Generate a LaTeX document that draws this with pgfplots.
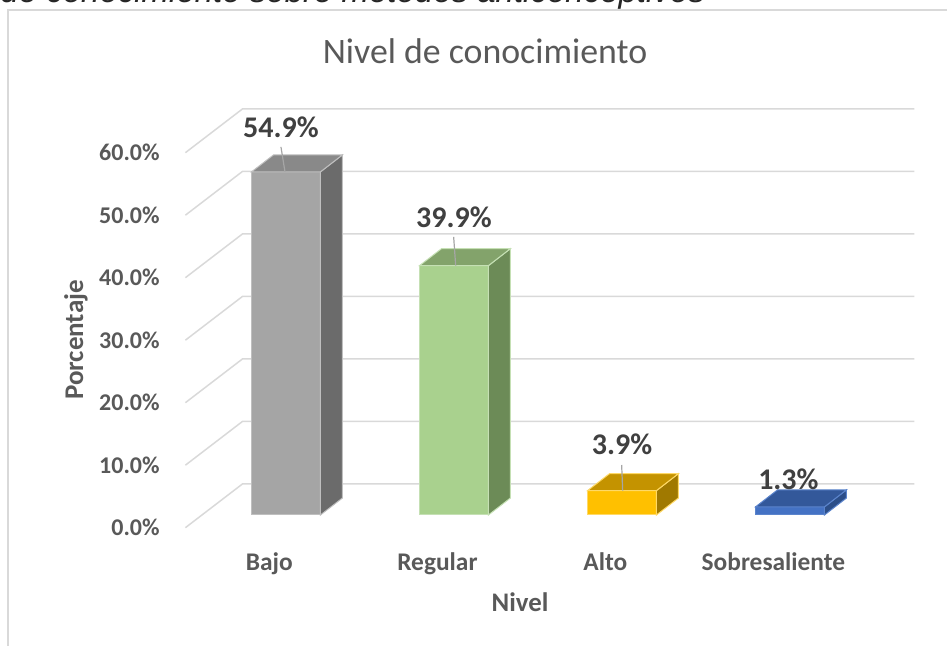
\documentclass[border=0pt]{standalone}
\usepackage{fontspec}
\setmainfont{Carlito}
\newfontfamily\capfont{Liberation Sans}
\usepackage{pgfplots}
\pgfplotsset{compat=1.18}
\definecolor{gridc}{HTML}{D9D9D9}
\definecolor{txt}{HTML}{595959}
\definecolor{lbl}{HTML}{404040}
\definecolor{bajoF}{HTML}{A5A5A5}
\definecolor{bajoS}{HTML}{6B6B6B}
\definecolor{bajoT}{HTML}{898989}
\definecolor{bajoE}{HTML}{BFBFBF}
\definecolor{regF}{HTML}{A9D18E}
\definecolor{regS}{HTML}{6C8B57}
\definecolor{regT}{HTML}{83A36B}
\definecolor{regE}{HTML}{C5E0B4}
\definecolor{altF}{HTML}{FFC000}
\definecolor{altS}{HTML}{A07900}
\definecolor{altT}{HTML}{C49300}
\definecolor{altE}{HTML}{FFD966}
\definecolor{sobF}{HTML}{4472C4}
\definecolor{sobS}{HTML}{2C4E88}
\definecolor{sobT}{HTML}{33589A}
\definecolor{sobE}{HTML}{5B84CC}
\begin{document}
\begin{tikzpicture}
\useasboundingbox (-143pt,-65.5pt) rectangle (330.5pt,257.5pt);
\draw[gridc, line width=0.75pt] (-139pt,-70pt) -- (-139pt,252.5pt) -- (340pt,252.5pt);
\node[anchor=base east, font=\capfont\itshape\fontsize{16.5}{18}\selectfont, text=black!85] at (213pt,256pt) {Nivel de conocimiento sobre métodos anticonceptivos};
\begin{axis}[
  at={(0pt,0pt)}, anchor=origin,
  x=84pt, y=3.125pt,
  xmin=-0.5988, xmax=3.7405, ymin=-2.03, ymax=64.96,
  clip=false,
  axis line style={draw=none},
  major tick length=0pt,
  /pgf/number format/assume math mode=true,
  xtick={-0.0988,0.9012,1.9012,2.9012},
  xticklabels={Bajo,Regular,Alto,Sobresaliente},
  xticklabel style={anchor=base, yshift=-21.4pt, font=\bfseries\fontsize{12.7}{14}\selectfont, text=txt},
  ytick={-2.03,7.97,17.97,27.97,37.97,47.97,57.97},
  yticklabels={0.0\%,10.0\%,20.0\%,30.0\%,40.0\%,50.0\%,60.0\%},
  yticklabel style={anchor=east, inner sep=0pt, xshift=-12.7pt, font=\bfseries\fontsize{12}{14}\selectfont, text=txt},
  title={Nivel de conocimiento},
  title style={at={(axis description cs:0.411,1.1098)}, anchor=center, font=\fontsize{17.9}{20}\selectfont, text=txt},
  xlabel={Nivel},
  xlabel style={at={(axis description cs:0.459,-0.200)}, anchor=base, font=\bfseries\fontsize{13.4}{15}\selectfont, text=txt},
  ylabel={Porcentaje},
  ylabel style={at={(axis description cs:-0.150,0.4483)}, anchor=center, rotate=0, font=\bfseries\fontsize{13.5}{15}\selectfont, text=txt},
  every axis plot/.append style={forget plot},
  nodes near coords style={anchor=center, font=\bfseries\fontsize{15}{17}\selectfont, text=lbl},
]
% gridlines (back wall + left wall)
\addplot[gridc, line width=0.75pt] coordinates {(-0.5988,-2.03) (-0.2595,4.96) (3.7405,4.96)};
\addplot[gridc, line width=0.75pt] coordinates {(-0.5988,7.97) (-0.2595,14.96) (3.7405,14.96)};
\addplot[gridc, line width=0.75pt] coordinates {(-0.5988,17.97) (-0.2595,24.96) (3.7405,24.96)};
\addplot[gridc, line width=0.75pt] coordinates {(-0.5988,27.97) (-0.2595,34.96) (3.7405,34.96)};
\addplot[gridc, line width=0.75pt] coordinates {(-0.5988,37.97) (-0.2595,44.96) (3.7405,44.96)};
\addplot[gridc, line width=0.75pt] coordinates {(-0.5988,47.97) (-0.2595,54.96) (3.7405,54.96)};
\addplot[gridc, line width=0.75pt] coordinates {(-0.5988,57.97) (-0.2595,64.96) (3.7405,64.96)};
% Bajo
\addplot[ybar, bar width=0.41, bar shift=0pt, fill=bajoF, draw=bajoE, line width=0.5pt,
  nodes near coords={\pgfmathprintnumber[fixed,fixed zerofill,precision=1]{\pgfplotspointmeta}\%},
  nodes near coords style={yshift=22.5pt, xshift=-2.5pt}] coordinates {(0,54.9)};
\addplot[fill=bajoS, draw=bajoE, line width=0.5pt] coordinates {(0.205,0) (0.336,2.72) (0.336,57.62) (0.205,54.9)} -- cycle;
\addplot[fill=bajoT, draw=bajoE, line width=0.5pt] coordinates {(-0.205,54.9) (-0.074,57.62) (0.336,57.62) (0.205,54.9)} -- cycle;
% Regular
\addplot[ybar, bar width=0.41, bar shift=0pt, fill=regF, draw=regE, line width=0.5pt,
  nodes near coords={\pgfmathprintnumber[fixed,fixed zerofill,precision=1]{\pgfplotspointmeta}\%},
  nodes near coords style={yshift=24pt}] coordinates {(1,39.9)};
\addplot[fill=regS, draw=regE, line width=0.5pt] coordinates {(1.205,0) (1.336,2.72) (1.336,42.62) (1.205,39.9)} -- cycle;
\addplot[fill=regT, draw=regE, line width=0.5pt] coordinates {(0.795,39.9) (0.926,42.62) (1.336,42.62) (1.205,39.9)} -- cycle;
% Alto
\addplot[ybar, bar width=0.41, bar shift=0pt, fill=altF, draw=altE, line width=0.5pt,
  nodes near coords={\pgfmathprintnumber[fixed,fixed zerofill,precision=1]{\pgfplotspointmeta}\%},
  nodes near coords style={yshift=23.3pt}] coordinates {(2,3.9)};
\addplot[fill=altS, draw=altE, line width=0.5pt] coordinates {(2.205,0) (2.336,2.72) (2.336,6.62) (2.205,3.9)} -- cycle;
\addplot[fill=altT, draw=altE, line width=0.5pt] coordinates {(1.795,3.9) (1.926,6.62) (2.336,6.62) (2.205,3.9)} -- cycle;
% Sobresaliente
\addplot[ybar, bar width=0.41, bar shift=0pt, fill=sobF, draw=sobE, line width=0.5pt,
  nodes near coords={\pgfmathprintnumber[fixed,fixed zerofill,precision=1]{\pgfplotspointmeta}\%},
  nodes near coords style={yshift=14pt, xshift=-0.8pt}] coordinates {(3,1.3)};
\addplot[fill=sobS, draw=sobE, line width=0.5pt] coordinates {(3.205,0) (3.336,2.72) (3.336,4.02) (3.205,1.3)} -- cycle;
\addplot[fill=sobT, draw=sobE, line width=0.5pt] coordinates {(2.795,1.3) (2.926,4.02) (3.336,4.02) (3.205,1.3)} -- cycle;
% leader lines
\addplot[color=black!35, line width=0.6pt] coordinates {(-0.030,58.9) (-0.006,54.9)};
\addplot[color=black!35, line width=0.6pt] coordinates {(0.998,44.5) (1.010,39.9)};
\addplot[color=black!35, line width=0.6pt] coordinates {(1.998,8.0) (2.004,3.9)};
\end{axis}
\end{tikzpicture}
\end{document}
